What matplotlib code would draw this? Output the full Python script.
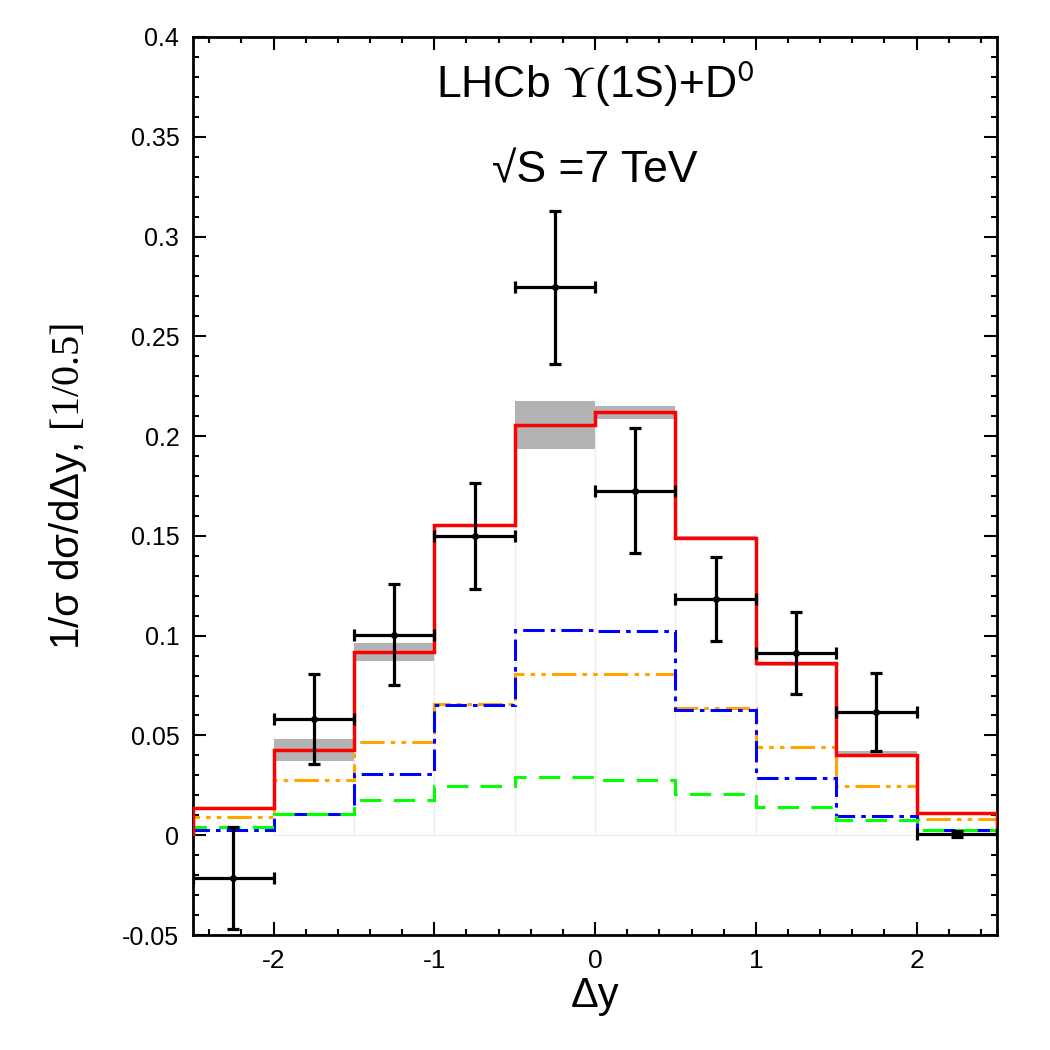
import numpy as np
import matplotlib
matplotlib.use('Agg')
import matplotlib.pyplot as plt
from matplotlib.ticker import MultipleLocator
from matplotlib import font_manager

plt.rcParams['font.family'] = ['Liberation Sans', 'DejaVu Sans']
plt.rcParams['axes.unicode_minus'] = False
plt.rcParams['mathtext.fontset'] = 'custom'
plt.rcParams['mathtext.rm'] = 'Liberation Serif'

# bins in delta y
edges = [-2.5, -2.0, -1.5, -1.0, -0.5, 0.0, 0.5, 1.0, 1.5, 2.0, 2.5]
centers = [-2.25, -1.75, -1.25, -0.75, -0.25, 0.25, 0.75, 1.25, 1.75, 2.25]

# theory curves
total = [0.0137, 0.0428, 0.0918, 0.1553, 0.2058, 0.2121, 0.1490, 0.0865, 0.0404, 0.0109]
band_lo = [0.0137, 0.0372, 0.0873, 0.1545, 0.1934, 0.2086, 0.1482, 0.0850, 0.0400, 0.0109]
band_hi = [0.0137, 0.0484, 0.0965, 0.1560, 0.2176, 0.2149, 0.1497, 0.0870, 0.0421, 0.0109]
orange = [0.0090, 0.0278, 0.0467, 0.0656, 0.0810, 0.0808, 0.0639, 0.0442, 0.0245, 0.0079]
blue = [0.0025, 0.0106, 0.0305, 0.0654, 0.1027, 0.1022, 0.0630, 0.0287, 0.0095, 0.0025]
green = [0.0039, 0.0106, 0.0179, 0.0245, 0.0292, 0.0275, 0.0209, 0.0142, 0.0075, 0.0025]

# LHCb data
data_y = [-0.0215, 0.0583, 0.1005, 0.1500, 0.2745, 0.1727, 0.1182, 0.0915, 0.0618, 0.0008]
data_err = [0.0255, 0.0225, 0.0253, 0.0267, 0.0385, 0.0313, 0.0210, 0.0205, 0.0195, 0.0015]
x_err = 0.25

# narrow font for the axis labels if it is there
names = {f.name for f in font_manager.fontManager.ttflist}
narrow = 'Liberation Sans Narrow' in names
lab_family = ['Liberation Sans Narrow', 'DejaVu Sans'] if narrow else ['Liberation Sans', 'DejaVu Sans']

fig = plt.figure(figsize=(10.5, 10.5), dpi=100)
ax = fig.add_axes([0.184, 0.1095, 0.7655, 0.8553])

# faint background boxes
ax.bar(centers[1:-1], total[1:-1], width=0.5, color='white',
       edgecolor='#ececec', linewidth=0.8, zorder=1)

# uncertainty band
ax.stairs(band_hi, edges, baseline=band_lo, fill=True, color='#b3b3b3',
          linewidth=0, zorder=2)

ax.stairs(orange, edges, color='#ffa500', linewidth=2.2,
          linestyle=(0, (8, 2, 1.5, 2, 1.5, 2)), zorder=3)
ax.stairs(blue, edges, color='#0000ff', linewidth=2.2,
          linestyle=(0, (7, 2, 1.5, 2)), zorder=4)
ax.stairs(green, edges, color='#00ff00', linewidth=2.2,
          linestyle=(0, (7, 4)), zorder=4)
ax.stairs(total, edges, color='#ff0000', linewidth=2.5, zorder=5)

ax.errorbar(centers, data_y, yerr=data_err, xerr=x_err, fmt='o', color='black',
            markersize=4, elinewidth=2.3, capsize=4, capthick=2.3, zorder=6)

ax.set_xlim(-2.5, 2.5)
ax.set_ylim(-0.05, 0.4)

ax.xaxis.set_minor_locator(MultipleLocator(0.2))
ax.yaxis.set_minor_locator(MultipleLocator(0.01))
ax.set_yticks([-0.05, 0, 0.05, 0.1, 0.15, 0.2, 0.25, 0.3, 0.35, 0.4])
ax.set_yticklabels(['-0.05', '0', '0.05', '0.1', '0.15', '0.2', '0.25', '0.3', '0.35', '0.4'])
ax.set_xticks([-2, -1, 0, 1, 2])
ax.set_xticklabels(['-2', '-1', '0', '1', '2'])

ax.tick_params(which='both', direction='in', top=True, right=True, width=1.5)
ax.tick_params(which='major', length=9.5, labelsize=18, pad=10)
ax.tick_params(which='minor', length=4.5)
for lbl in ax.get_xticklabels():
    lbl.set_fontsize(21 if narrow else 19)
    lbl.set_family(lab_family)
for s in ax.spines.values():
    s.set_linewidth(2)

ax.set_xlabel('Δy', fontsize=33 if narrow else 30, labelpad=2, family=lab_family)
ax.set_ylabel(r'1/σ dσ/dΔy, $\mathrm{[1/0.5]}$', fontsize=31 if narrow else 29,
              labelpad=24, family=lab_family)

ax.text(0, 0.377, r'LHCb $\Upsilon$(1S)+D$^{\mathsf{0}}$', fontsize=32, ha='center', va='center',
        math_fontfamily='stix', zorder=7)
ax.text(0, 0.333, '√S =7 TeV', fontsize=32, ha='center', va='center', zorder=7)

fig.savefig('out.png', dpi=100)
